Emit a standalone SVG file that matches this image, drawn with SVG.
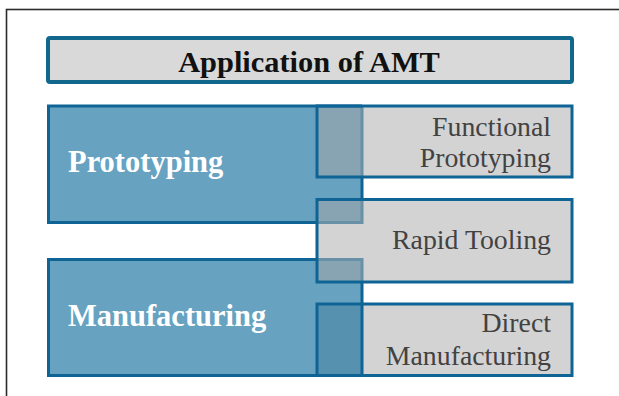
<svg xmlns="http://www.w3.org/2000/svg" width="619" height="396" viewBox="0 0 619 396">
  <style>
    .frame { fill: none; stroke: #2b2b2b; stroke-width: 1.6; }
    .title-box { fill: #d9d9d9; stroke: #12678c; stroke-width: 4; }
    .blue { fill: #68a2c1; }
    .grey { fill: #d3d3d3; }
    .ov-light { fill: #88a3b2; }
    .ov-dark { fill: #5691b0; }
    .edge { fill: none; stroke: #0e6595; stroke-width: 3; }
    .edge-faded { fill: none; stroke: #6890a7; stroke-width: 3; }
    .t-title { font-family: "Liberation Serif", "Times New Roman", serif; font-weight: bold; font-size: 30.4px; fill: #111; }
    .t-main { font-family: "Liberation Serif", "Times New Roman", serif; font-weight: bold; font-size: 30.5px; fill: #ffffff; }
    .t-sub { font-family: "Liberation Serif", "Times New Roman", serif; font-size: 27.8px; fill: #424242; text-anchor: end; }
  </style>

  <rect width="619" height="396" fill="#ffffff"/>
  <rect class="frame" x="6.5" y="9.5" width="700" height="500"/>

  <g id="title">
    <rect class="title-box" x="48" y="38" width="524" height="44" rx="2"/>
    <text class="t-title" x="309" y="72" text-anchor="middle">Application of AMT</text>
  </g>

  <!-- fills: sub boxes, main boxes, then the shared areas -->
  <g id="fills">
    <rect class="grey" x="317" y="106" width="255" height="71"/>
    <rect class="grey" x="317" y="199.5" width="255" height="82.5"/>
    <rect class="grey" x="317" y="304" width="255" height="71.5"/>
    <rect class="blue" x="48.5" y="106" width="313.5" height="116.5"/>
    <rect class="blue" x="48.5" y="259.5" width="313.5" height="116"/>
    <rect class="ov-light" x="317" y="106" width="45" height="71"/>
    <rect class="ov-light" x="317" y="199.5" width="45" height="23"/>
    <rect class="ov-light" x="317" y="259.5" width="45" height="22.5"/>
    <rect class="ov-dark" x="317" y="304" width="45" height="71.5"/>
  </g>

  <g id="prototyping">
    <path class="edge-faded" d="M362 106V177M362 199.5V222.5H317"/>
    <path class="edge" d="M317 222.5H48.5V106H362M362 177V199.5"/>
    <text class="t-main" x="68" y="172">Prototyping</text>
  </g>

  <g id="manufacturing">
    <path class="edge-faded" d="M317 259.5H362V282"/>
    <path class="edge" d="M317 259.5H48.5V375.5H362V282"/>
    <text class="t-main" x="68" y="326">Manufacturing</text>
  </g>

  <g id="functional-prototyping">
    <rect class="edge" x="317" y="106" width="255" height="71"/>
    <text class="t-sub" x="551" y="136">Functional</text>
    <text class="t-sub" x="551" y="167">Prototyping</text>
  </g>

  <g id="rapid-tooling">
    <rect class="edge" x="317" y="199.5" width="255" height="82.5"/>
    <text class="t-sub" x="551" y="249">Rapid Tooling</text>
  </g>

  <g id="direct-manufacturing">
    <rect class="edge" x="317" y="304" width="255" height="71.5"/>
    <text class="t-sub" x="551" y="332">Direct</text>
    <text class="t-sub" x="551" y="365">Manufacturing</text>
  </g>

  <g id="connectors"/>
</svg>
